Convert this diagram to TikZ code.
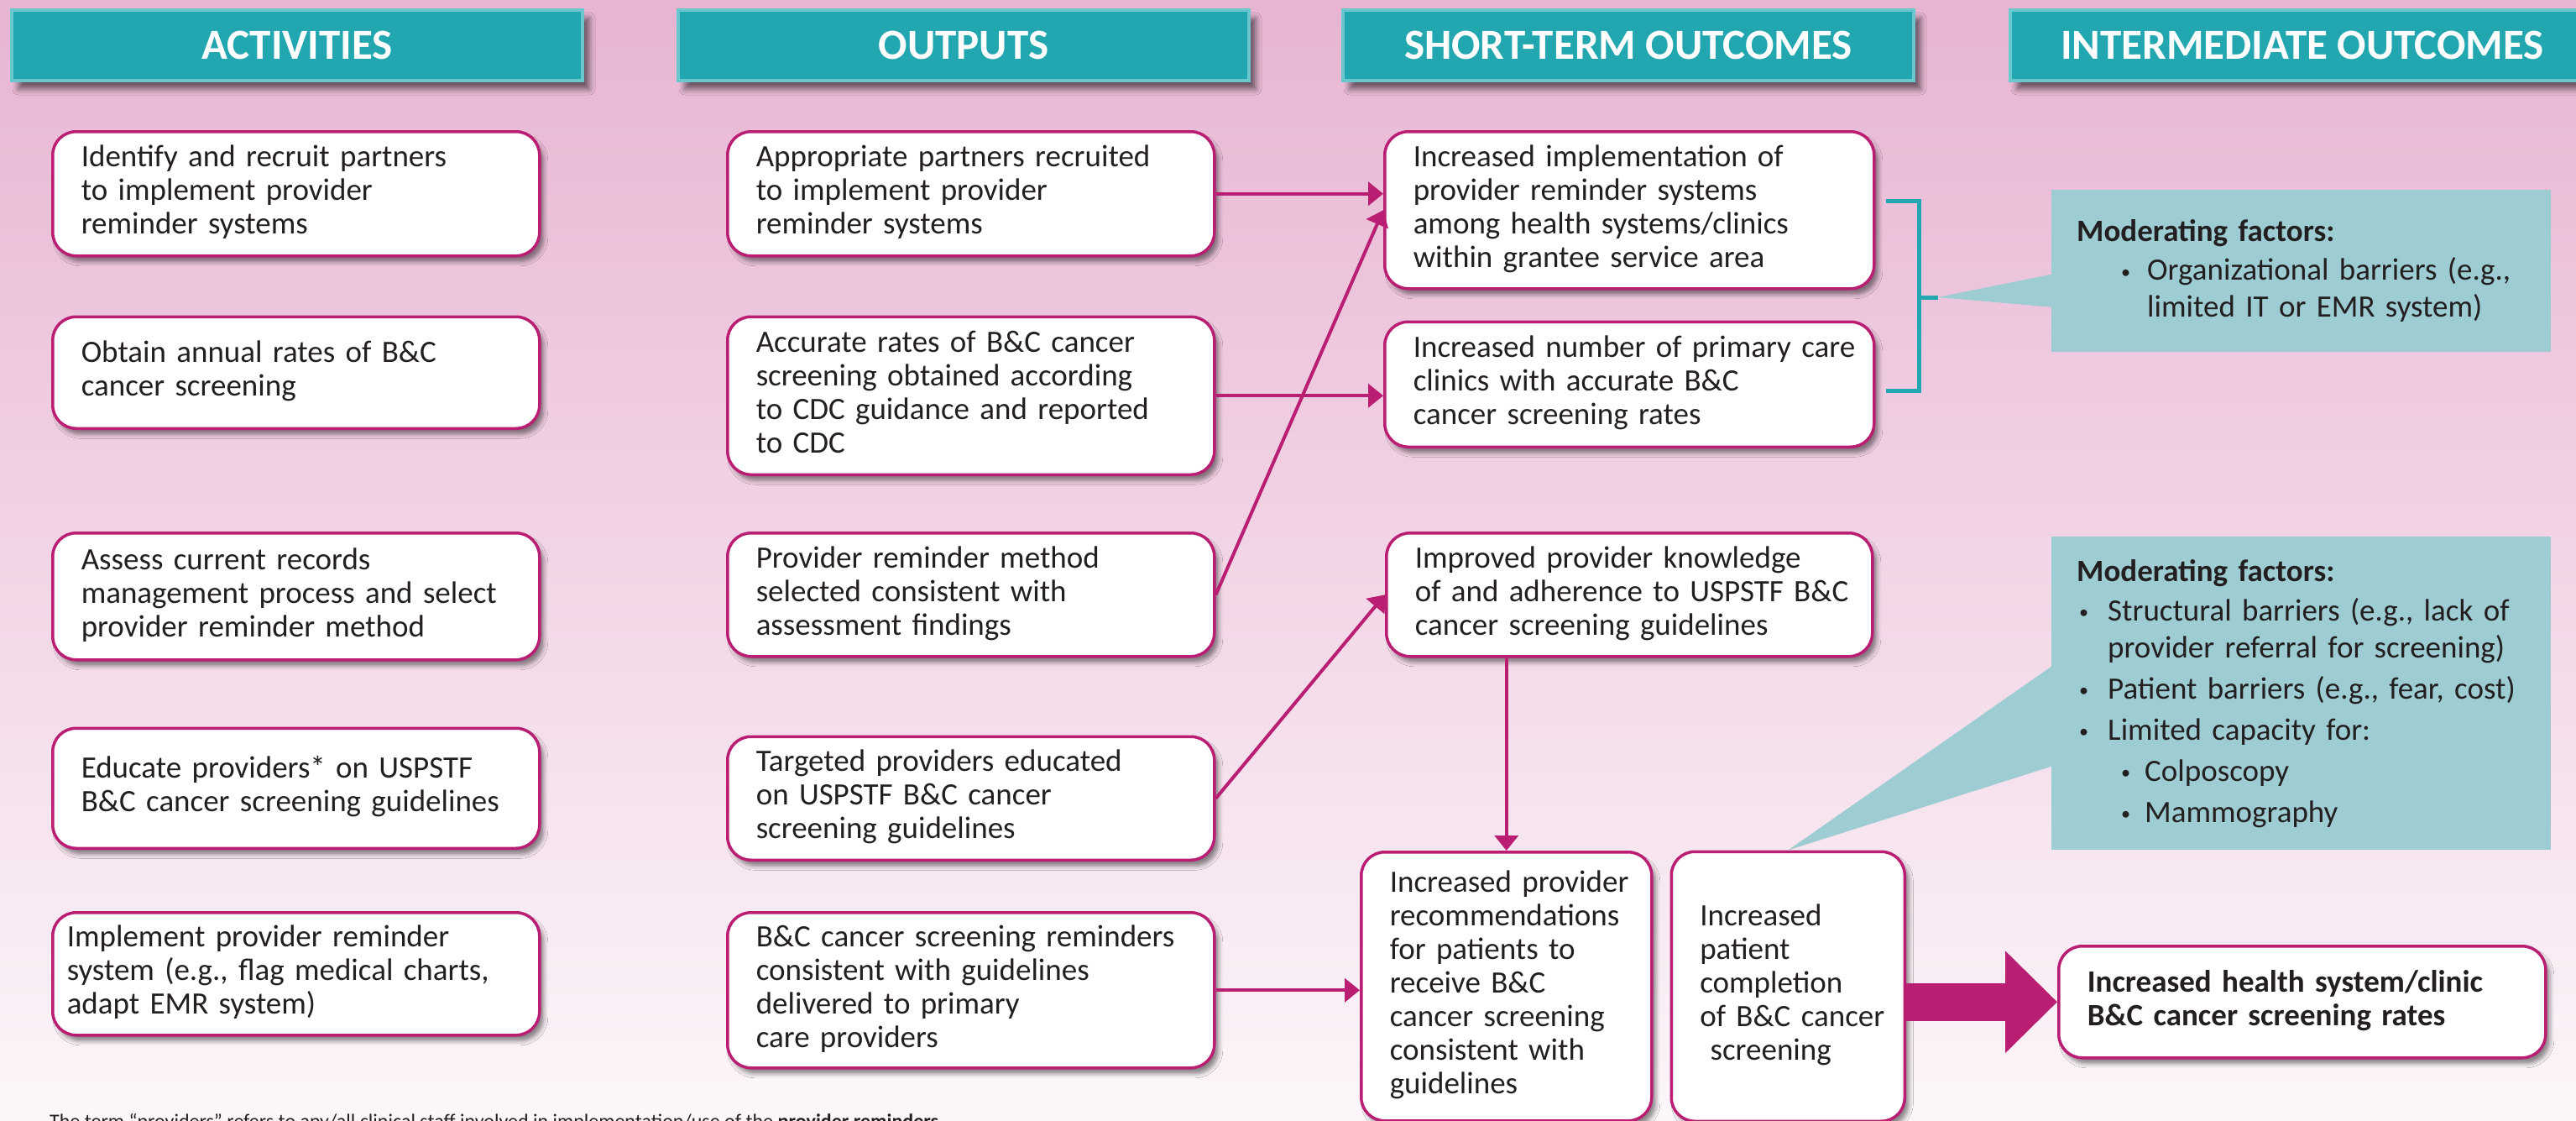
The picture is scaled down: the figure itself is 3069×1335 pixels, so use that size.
\documentclass[tikz,border=0pt]{standalone}
\usepackage{fontspec}
\setmainfont{Carlito}
\usetikzlibrary{positioning, calc, arrows.meta, shadows.blur}

\definecolor{bgtop}{RGB}{231,180,210}
\definecolor{bgbot}{RGB}{252,246,250}
\definecolor{hdrteal}{RGB}{34,167,176}
\definecolor{hdrglow}{RGB}{104,200,205}
\definecolor{boxrim}{RGB}{185,30,115}
\definecolor{modfill}{RGB}{157,204,210}
\definecolor{txt}{RGB}{35,31,32}

\newcommand{\boxlines}[1]{\begin{tabular}{@{}l@{}}#1\end{tabular}}
\newcommand{\dotbul}{\raisebox{0.12ex}{\scalebox{0.6}{\textbullet}}}
\newcommand{\modbul}{\hspace*{3pt}\makebox[34pt][l]{\dotbul}}
\newcommand{\subbul}{\hspace*{53pt}\makebox[28pt][l]{\dotbul}}

\begin{document}
\begin{tikzpicture}[x=1pt, y=-1pt,
    hdr/.style={anchor=north west, minimum width=680pt, minimum height=84pt, inner sep=0pt,
        fill=hdrteal, draw=hdrglow, line width=4pt, text=white,
        font=\fontsize{51}{56}\selectfont\bfseries,
        blur shadow={shadow xshift=8pt, shadow yshift=-10pt, shadow blur radius=7pt, shadow opacity=55}},
    pbox/.style={anchor=north west, draw=boxrim, line width=3.5pt, fill=white, rounded corners=28pt,
        inner xsep=34pt, inner ysep=0pt, text width=512pt, align=left, text=txt,
        font=\fontsize{37}{40}\selectfont,
        blur shadow={shadow xshift=5pt, shadow yshift=-7pt, shadow blur radius=5pt, shadow opacity=45}},
    modbox/.style={anchor=north west, fill=modfill, minimum width=595pt, inner xsep=30pt,
        text width=535pt, align=left, text=txt, font=\fontsize{37}{44}\selectfont},
    flow/.style={draw=boxrim, line width=4pt, -{Triangle[length=18pt, width=28pt]}},
    bigflow/.style={draw=boxrim, line width=45pt, -{Triangle[length=62pt, width=118pt]}},
    bracket/.style={draw=hdrteal, line width=5pt}]

    \useasboundingbox (0,0) rectangle (3069,1335);
    \shade[top color=bgtop, bottom color=bgbot] (0,0) rectangle (3069,1335);

    \node[hdr] (hact) at (12,10) {ACTIVITIES};
    \node[hdr] (hout) at (806,10) {OUTPUTS};
    \node[hdr] (hst) at (1598,10) {SHORT-TERM OUTCOMES};
    \node[hdr, minimum width=696pt] (hint) at (2393,10) {INTERMEDIATE OUTCOMES};

    \node[pbox, minimum height=148pt] (act1) at (61,155) {\boxlines{Identify and recruit partners\\to implement provider\\reminder systems}};
    \node[pbox, minimum height=133pt, below=69pt of act1] (act2) {\boxlines{Obtain annual rates of B\&C\\cancer screening}};
    \node[pbox, minimum height=151pt, below=121pt of act2] (act3) {\boxlines{Assess current records\\management process and select\\provider reminder method}};
    \node[pbox, minimum height=143pt, below=78pt of act3] (act4) {\boxlines{Educate providers* on USPSTF\\B\&C cancer screening guidelines}};
    \node[pbox, minimum height=146pt, below=73pt of act4, inner xsep=17pt, text width=546pt] (act5) {\boxlines{Implement provider reminder\\system (e.g., flag medical charts,\\adapt EMR system)}};

    \node[pbox, minimum height=148pt] (out1) at (865,155) {\boxlines{Appropriate partners recruited\\to implement provider\\reminder systems}};
    \node[pbox, minimum height=188pt, below=69pt of out1] (out2) {\boxlines{Accurate rates of B\&C cancer\\screening obtained according\\to CDC guidance and reported\\to CDC}};
    \node[pbox, minimum height=147pt, below=66pt of out2] (out3) {\boxlines{Provider reminder method\\selected consistent with\\assessment findings}};
    \node[pbox, minimum height=147pt, below=92pt of out3] (out4) {\boxlines{Targeted providers educated\\on USPSTF B\&C cancer\\screening guidelines}};
    \node[pbox, minimum height=185pt, below=59pt of out4] (out5) {\boxlines{B\&C cancer screening reminders\\consistent with guidelines\\delivered to primary\\care providers}};

    \node[pbox, text width=515pt, minimum height=187pt] (st1) at (1648,155) {\boxlines{Increased implementation of\\provider reminder systems\\among health systems/clinics\\within grantee service area}};
    \node[pbox, text width=515pt, minimum height=149pt, below=36pt of st1] (st2) {\boxlines{Increased number of primary care\\clinics with accurate B\&C\\cancer screening rates}};
    \node[pbox, text width=511pt, minimum height=147pt, below=99pt of st2] (st3) {\boxlines{Improved provider knowledge\\of and adherence to USPSTF B\&C\\cancer screening guidelines}};
    \node[pbox, text width=278pt, minimum height=320pt] (st4) at (1620,1013) {\boxlines{Increased provider\\recommendations\\for patients to\\receive B\&C\\cancer screening\\consistent with\\guidelines}};
    \node[pbox, text width=210pt, minimum height=321pt, right=20pt of st4] (st5) {\boxlines{Increased\\patient\\completion\\of B\&C cancer\\\ screening}};

    \node[pbox, minimum height=133pt, font=\fontsize{37}{40}\selectfont\bfseries] (final) at (2451,1125) {\boxlines{Increased health system/clinic\\B\&C cancer screening rates}};

    \node[modbox, minimum height=193pt] (mod1) at (2444,226) {\textbf{Moderating factors:}\\[2pt]
        \hspace*{53pt}\makebox[31pt][l]{\dotbul}Organizational barriers (e.g.,\\
        \hspace*{84pt}limited IT or EMR system)};
    \node[modbox, minimum height=373pt] (mod2) at (2444,639) {\textbf{Moderating factors:}\\[3pt]
        \modbul Structural barriers (e.g., lack of\\
        \hspace*{37pt}provider referral for screening)\\[5pt]
        \modbul Patient barriers (e.g., fear, cost)\\[5pt]
        \modbul Limited capacity for:\\[5pt]
        \subbul Colposcopy\\[5pt]
        \subbul Mammography};

    \draw[flow] (out1.east) -- (out1.east -| st1.west);
    \draw[flow] (out3.east) -- (st1.west);
    \draw[flow] (out2.east) -- (out2.east -| st2.west);
    \draw[flow] (out4.east) -- (st3.west);
    \draw[flow] (st3.south -| st4.north) -- (st4.north);
    \draw[flow] (out5.east) -- (out5.east -| st4.west);
    \draw[bigflow] (final.west -| st5.east) -- (final.west);

    \coordinate (brk) at ($(st1.east)!0.5!(st2.east)$);
    \draw[bracket] ([xshift=12pt, yshift=11pt]st1.east) -| ([xshift=52pt]brk) |- ([xshift=12pt, yshift=-8pt]st2.east);
    \draw[bracket] ([xshift=52pt]brk) -- ([xshift=74pt]brk) coordinate (mod1tip);
    \fill[modfill] (mod1tip) -- ([yshift=-4pt]mod1.west) -- ([yshift=-43pt]mod1.west) -- cycle;
    \fill[modfill] (st5.north) -- ([yshift=32pt]mod2.west) -- ([yshift=-87pt]mod2.west) -- cycle;

    \node[anchor=base west, inner sep=0pt, text=txt, font=\fontsize{24}{28}\selectfont] (note) at (59,1343) {The term ``providers'' refers to any/all clinical staff involved in implementation/use of the \textbf{provider reminders}.};
\end{tikzpicture}
\end{document}
